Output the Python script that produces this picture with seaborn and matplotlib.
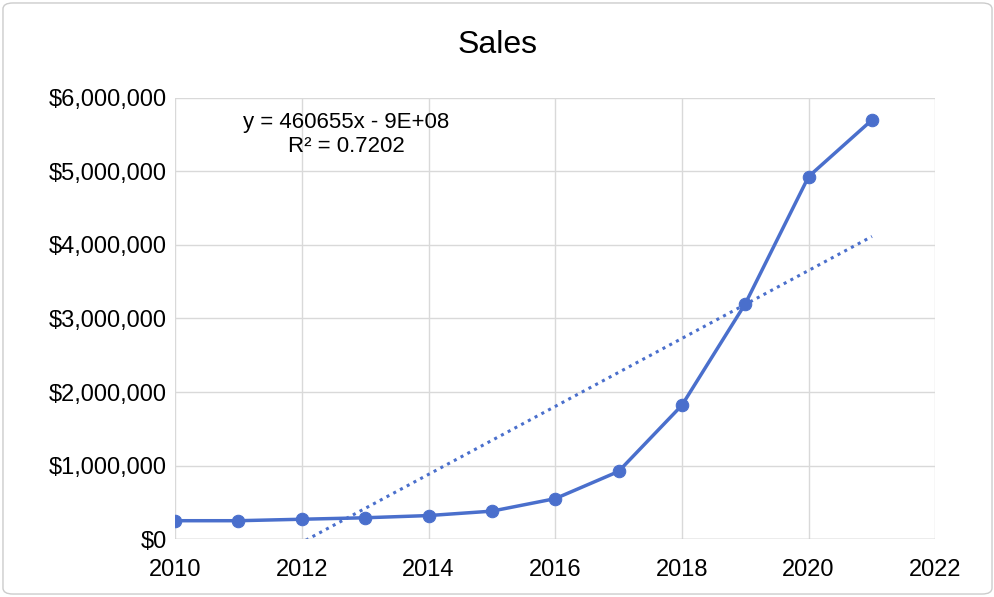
import numpy as np
import pandas as pd
import matplotlib
matplotlib.use("Agg")
import matplotlib.pyplot as plt
import seaborn as sns

years = [2010, 2011, 2012, 2013, 2014, 2015, 2016, 2017, 2018, 2019, 2020, 2021]
sales = [250000, 250000, 270000, 290000, 320000, 380000, 550000, 920000,
         1820000, 3200000, 4930000, 5700000]
trend_label = "y = 460655x - 9E+08\nR² = 0.7202"

sns.set_theme(style="white")
plt.rcParams["font.family"] = ["Liberation Sans", "DejaVu Sans"]

df = pd.DataFrame({"year": years, "sales": sales})
color = "#4A6FCC"

fig = plt.figure(figsize=(9.95, 5.97), dpi=100)
ax = fig.add_axes([0.176, 0.097, 0.764, 0.739])

sns.lineplot(data=df, x="year", y="sales", ax=ax, color=color, linewidth=2.5,
             marker="o", markersize=9, markeredgecolor=color)

slope, intercept = np.polyfit(df["year"], df["sales"], 1)
tx = np.linspace(2010, 2021, 200)
ax.plot(tx, slope * tx + intercept, color=color, linestyle=(0, (1, 1.5)),
        linewidth=2.2)

ax.set_xlim(2010, 2022)
ax.set_ylim(0, 6000000)
ax.set_xticks(range(2010, 2023, 2))
ax.set_yticks(range(0, 6000001, 1000000))
ax.yaxis.set_major_formatter(matplotlib.ticker.FuncFormatter(lambda v, p: f"${v:,.0f}"))
ax.tick_params(axis="y", labelsize=17, length=0, pad=6, labelcolor="black")
ax.tick_params(axis="x", labelsize=17, length=0, pad=14, labelcolor="black")
ax.grid(True, color="#d9d9d9", linewidth=1)
for s in ax.spines.values():
    s.set_visible(False)
ax.axhline(0, color="#bfbfbf", linewidth=1)
ax.set_xlabel("")
ax.set_ylabel("")

fig.text(0.5, 0.925, "Sales", ha="center", va="center", fontsize=23, color="black")
ax.text(2012.7, 5500000, trend_label, ha="center", va="center", fontsize=16,
        linespacing=1.15, color="black")

fig.add_artist(matplotlib.patches.FancyBboxPatch(
    (0.003, 0.005), 0.994, 0.99, boxstyle="round,pad=0,rounding_size=0.01",
    transform=fig.transFigure, fill=False, edgecolor="#cccccc", linewidth=1))

fig.savefig("out.png", dpi=100)
